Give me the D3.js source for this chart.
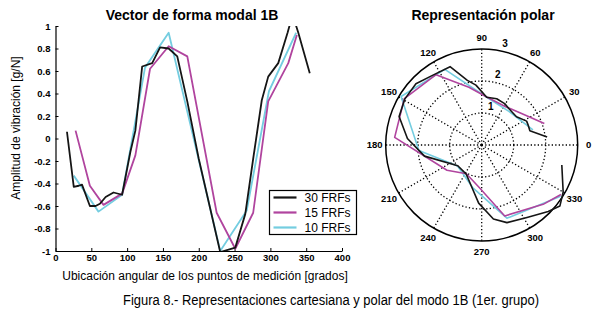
<!DOCTYPE html>
<html>
<head>
<meta charset="utf-8">
<script src="https://cdn.jsdelivr.net/npm/d3@7"></script>
<style>
  body { margin: 0; background: #fff; }
  svg { display: block; }
  text { font-family: Arial, "Liberation Sans", sans-serif; fill: #000; }
  .tick text { font-family: "Liberation Sans Narrow", "Arial Narrow", Arial, sans-serif; font-weight: bold; font-size: 9.5px; }
</style>
</head>
<body>
<div id="chart"></div>
<script>
const ang30 = [16, 25.5, 32.5, 37, 48, 56, 62, 70, 81, 93, 104.5, 111.5, 121, 135, 146, 158, 170, 184, 200, 230, 251, 265, 276, 288, 297, 311, 324, 331, 339, 355];
const amp30 = [0.06, -0.43, -0.42, -0.41, -0.60, -0.60, -0.58, -0.52, -0.48, -0.50, -0.12, 0.07, 0.64, 0.67, 0.81, 0.80, 0.73, 0.33, -0.18, -1.01, -0.97, -0.67, -0.18, 0.34, 0.55, 0.67, 0.94, 1.10, 0.94, 0.58];

const ang15 = [28, 48, 67, 93, 111.5, 132, 158, 184, 225, 251, 276, 297, 325, 337];
const amp15 = [0.07, -0.42, -0.59, -0.49, -0.15, 0.62, 0.82, 0.73, -0.66, -0.98, -0.66, 0.33, 0.67, 0.92];

const ang10 = [25.5, 60, 93, 125, 158, 194, 230, 267, 298, 336];
const amp10 = [-0.33, -0.65, -0.50, 0.63, 0.94, -0.03, -1.00, -0.64, 0.42, 0.94];

const seriesNames = ["30 FRFs", "15 FRFs", "10 FRFs"];
const xTicks = [0, 50, 100, 150, 200, 250, 300, 350, 400];
const yTicks = [-1, -0.8, -0.6, -0.4, -0.2, 0, 0.2, 0.4, 0.6, 0.8, 1];
const polarAngleTicks = [0, 30, 60, 90, 120, 150, 180, 210, 240, 270, 300, 330];
const polarRings = [1, 2, 3];
const polarShift = 9;    // polar plot angles sit a little behind the cartesian ones
const polarBase = 2;     // radius = amplitude + 2

const colors = ["#151515", "#b0449e", "#74cde0"];

const series = [
  { name: seriesNames[0], pts: ang30.map((a, i) => ({ a: a, v: amp30[i] })), color: colors[0] },
  { name: seriesNames[1], pts: ang15.map((a, i) => ({ a: a, v: amp15[i] })), color: colors[1] },
  { name: seriesNames[2], pts: ang10.map((a, i) => ({ a: a, v: amp10[i] })), color: colors[2] }
];
const drawOrder = [2, 1, 0];

const svg = d3.select("#chart").append("svg")
  .attr("width", 600)
  .attr("height", 324);

svg.append("rect").attr("width", 600).attr("height", 324).attr("fill", "#fff");

// ---- cartesian plot ----
const x = d3.scaleLinear().domain([0, 400]).range([55.5, 342]);
const y = d3.scaleLinear().domain([-1, 1]).range([251, 26]);

svg.append("clipPath").attr("id", "plotclip")
  .append("rect")
  .attr("x", x(0)).attr("y", y(1))
  .attr("width", x(400) - x(0)).attr("height", y(-1) - y(1));

const fmtY = d => (d === 0 || Math.abs(d) === 1) ? String(d) : d.toFixed(1);

const gx = svg.append("g")
  .attr("transform", "translate(0," + y(-1) + ")")
  .call(d3.axisBottom(x).tickValues(xTicks).tickSizeInner(-3).tickSizeOuter(0).tickPadding(3));

const gy = svg.append("g")
  .attr("transform", "translate(" + x(0) + ",0)")
  .call(d3.axisLeft(y).tickValues(yTicks).tickFormat(fmtY).tickSizeInner(-3).tickSizeOuter(0).tickPadding(5));

[gx, gy].forEach(g => {
  g.select(".domain").attr("stroke", "#000").attr("stroke-width", 1.2);
  g.selectAll(".tick line").attr("stroke", "#000");
});

const line = d3.line().x(d => x(d.a)).y(d => y(d.v));

const plot = svg.append("g").attr("clip-path", "url(#plotclip)");
drawOrder.forEach(i => {
  plot.append("path")
    .datum(series[i].pts)
    .attr("d", line)
    .attr("fill", "none")
    .attr("stroke", series[i].color)
    .attr("stroke-width", 1.8)
    .attr("stroke-linejoin", "round");
});

svg.append("text")
  .attr("x", 192).attr("y", 20)
  .attr("text-anchor", "middle")
  .attr("font-size", "14px").attr("font-weight", "bold")
  .text("Vector de forma modal 1B");

svg.append("text")
  .attr("transform", "translate(20,128) rotate(-90)")
  .attr("text-anchor", "middle")
  .attr("font-size", "12px")
  .text("Amplitud de vibración [g/N]");

svg.append("text")
  .attr("x", 205).attr("y", 280)
  .attr("text-anchor", "middle")
  .attr("font-size", "12px")
  .text("Ubicación angular de los puntos de medición [grados]");

// legend
const lg = svg.append("g").attr("transform", "translate(269.5,190.5)");
lg.append("rect").attr("width", 87).attr("height", 44)
  .attr("fill", "#fff").attr("stroke", "#000").attr("stroke-width", 1.2);
series.forEach((s, i) => {
  const ly = 7 + i * 15;
  lg.append("line").attr("x1", 4).attr("x2", 27).attr("y1", ly).attr("y2", ly)
    .attr("stroke", s.color).attr("stroke-width", 2.2);
  lg.append("text").attr("x", 35).attr("y", ly).attr("dy", "0.35em")
    .attr("font-size", "12px").text(s.name);
});

// ---- polar plot ----
const cx = 481.7, cy = 145, R = 96;
const r = d3.scaleLinear().domain([0, 3]).range([0, R]);
const toRad = deg => deg * Math.PI / 180;

const pg = svg.append("g").attr("transform", "translate(" + cx + "," + cy + ")");

polarAngleTicks.forEach(t => {
  pg.append("line")
    .attr("x1", 0).attr("y1", 0)
    .attr("x2", r(3) * Math.cos(toRad(t))).attr("y2", -r(3) * Math.sin(toRad(t)))
    .attr("stroke", "#000").attr("stroke-width", 1.3)
    .attr("stroke-dasharray", "1.3,2.2");
  pg.append("text")
    .attr("x", (R + 11) * Math.cos(toRad(t)))
    .attr("y", -(R + 11) * Math.sin(toRad(t)))
    .attr("dy", "0.35em")
    .attr("text-anchor", "middle")
    .attr("font-family", "\"Liberation Sans Narrow\", \"Arial Narrow\", Arial, sans-serif")
    .attr("font-weight", "bold")
    .attr("font-size", "9.5px")
    .text(t);
});

polarRings.forEach(k => {
  const solid = k === 3;
  pg.append("circle").attr("r", r(k))
    .attr("fill", "none").attr("stroke", "#000")
    .attr("stroke-width", solid ? 1.5 : 1.3)
    .attr("stroke-dasharray", solid ? null : "1.3,2.2");
  pg.append("text")
    .attr("x", (r(k) + 8) * Math.cos(toRad(77)))
    .attr("y", -(r(k) + 8) * Math.sin(toRad(77)))
    .attr("dy", "0.35em")
    .attr("text-anchor", "middle")
    .attr("font-weight", "bold")
    .attr("font-size", "10px")
    .text(k);
});

const radial = d3.lineRadial()
  .angle(d => Math.PI / 2 - toRad(d.a - polarShift))
  .radius(d => r(d.v + polarBase));

drawOrder.forEach(i => {
  pg.append("path")
    .datum(series[i].pts)
    .attr("d", radial)
    .attr("fill", "none")
    .attr("stroke", series[i].color)
    .attr("stroke-width", 1.6)
    .attr("stroke-linejoin", "round");
});

svg.append("text")
  .attr("x", 483).attr("y", 20)
  .attr("text-anchor", "middle")
  .attr("font-size", "14px").attr("font-weight", "bold")
  .text("Representación polar");

// caption
svg.append("text")
  .attr("x", 331).attr("y", 305)
  .attr("text-anchor", "middle")
  .attr("font-family", "Lato, \"Open Sans\", sans-serif")
  .attr("font-size", "14px")
  .attr("fill", "#222")
  .attr("textLength", 416)
  .attr("lengthAdjust", "spacingAndGlyphs")
  .text("Figura 8.- Representaciones cartesiana y polar del modo 1B (1er. grupo)");
</script>
</body>
</html>
